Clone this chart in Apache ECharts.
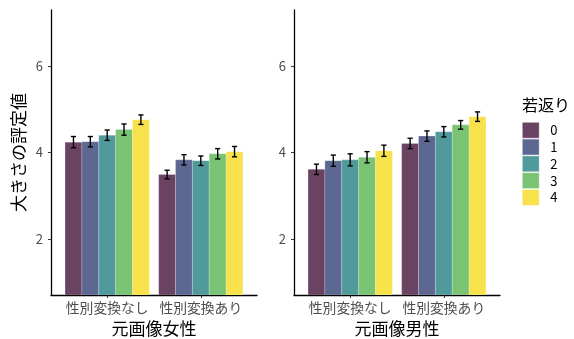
<!DOCTYPE html>
<html>
<head>
<meta charset="utf-8">
<script src="https://cdn.jsdelivr.net/npm/echarts@6/dist/echarts.min.js"></script>
<style>
  html, body { margin: 0; padding: 0; background: #fff; }
  #chart { width: 574px; height: 339px; }
</style>
</head>
<body>
<div id="chart"></div>
<script>
// Categories and group labels
const conditions = ['性別変換なし', '性別変換あり'];
const levels = ['0', '1', '2', '3', '4'];
const panelTitles = ['元画像女性', '元画像男性'];
const yTicks = [2, 4, 6];
const levelColors = ['#6a4262', '#5c6891', '#519a9b', '#7ac274', '#f8e24c'];

// Mean ratings per rejuvenation level (0-4)
const femaleNoSwapMean = [4.24, 4.25, 4.40, 4.53, 4.76];
const femaleSwapMean   = [3.49, 3.83, 3.81, 3.97, 4.02];
const maleNoSwapMean   = [3.61, 3.81, 3.83, 3.89, 4.04];
const maleSwapMean     = [4.21, 4.38, 4.48, 4.64, 4.83];

// Standard errors
const femaleNoSwapErr = [0.13, 0.12, 0.12, 0.13, 0.11];
const femaleSwapErr   = [0.10, 0.12, 0.11, 0.12, 0.12];
const maleNoSwapErr   = [0.12, 0.13, 0.14, 0.13, 0.13];
const maleSwapErr     = [0.12, 0.12, 0.12, 0.10, 0.11];

const yMin = 0.7, yMax = 7.3;
const dodge = 0.18;   // width of one bar in category units
const font = '"Noto Sans CJK JP", "Noto Sans", sans-serif';

const panels = [
  { means: [femaleNoSwapMean, femaleSwapMean], errs: [femaleNoSwapErr, femaleSwapErr] },
  { means: [maleNoSwapMean, maleSwapMean], errs: [maleNoSwapErr, maleSwapErr] }
];

function renderBar(params, api) {
  const cat = api.value(0), mean = api.value(1), se = api.value(2), lvl = api.value(3);
  const xc = cat + (lvl - 2) * dodge;
  const tl = api.coord([xc - dodge / 2, mean]);
  const br = api.coord([xc + dodge / 2, yMin]);
  const top = api.coord([xc, mean + se]);
  const bot = api.coord([xc, mean - se]);
  const cap = 2.6;
  const lineStyle = { stroke: '#000', lineWidth: 1.4 };
  return {
    type: 'group',
    children: [
      { type: 'rect', shape: { x: tl[0], y: tl[1], width: br[0] - tl[0], height: br[1] - tl[1] },
        style: { fill: levelColors[lvl], stroke: 'rgba(255,255,255,0.35)', lineWidth: 0.6 } },
      { type: 'line', shape: { x1: top[0], y1: top[1], x2: bot[0], y2: bot[1] }, style: lineStyle, z2: 5 },
      { type: 'line', shape: { x1: top[0] - cap, y1: top[1], x2: top[0] + cap, y2: top[1] }, style: lineStyle, z2: 5 },
      { type: 'line', shape: { x1: bot[0] - cap, y1: bot[1], x2: bot[0] + cap, y2: bot[1] }, style: lineStyle, z2: 5 }
    ]
  };
}

const grids = [
  { left: 51, top: 10, width: 206, height: 285, containLabel: false, outerBoundsMode: 'none' },
  { left: 294, top: 10, width: 206, height: 285, containLabel: false, outerBoundsMode: 'none' }
];

const xAxes = panels.map((p, i) => ({
  type: 'value', gridIndex: i, min: 0.4, max: 2.6,
  name: panelTitles[i], nameLocation: 'middle', nameGap: 19,
  nameTextStyle: { fontFamily: font, fontSize: 17, color: '#000' },
  axisLine: { show: true, lineStyle: { color: '#000', width: 1.3 } },
  axisTick: { show: true, length: 3, customValues: [1, 2], lineStyle: { color: '#333', width: 1 } },
  axisLabel: { customValues: [1, 2], margin: 6, fontFamily: font, fontSize: 13.8, color: '#4d4d4d',
    formatter: v => conditions[Math.round(v) - 1] || '' },
  splitLine: { show: false }
}));

const yAxes = panels.map((p, i) => ({
  type: 'value', gridIndex: i, min: yMin, max: yMax,
  name: i === 0 ? '大きさの評定値' : '', nameLocation: 'middle', nameGap: 24, nameRotate: 90,
  nameTextStyle: { fontFamily: font, fontSize: 17, color: '#000' },
  axisLine: { show: true, lineStyle: { color: '#000', width: 1.3 } },
  axisTick: { show: true, length: 3, customValues: yTicks, lineStyle: { color: '#333', width: 1 } },
  axisLabel: { customValues: yTicks, margin: 8, fontFamily: font, fontSize: 13, color: '#4d4d4d' },
  splitLine: { show: false }
}));

const series = [];
panels.forEach((p, pi) => {
  levels.forEach((lv, li) => {
    series.push({
      type: 'custom', name: lv, xAxisIndex: pi, yAxisIndex: pi,
      itemStyle: { color: levelColors[li] },
      renderItem: renderBar, clip: true,
      data: conditions.map((c, ci) => [ci + 1, p.means[ci][li], p.errs[ci][li], li])
    });
  });
});

const chart = echarts.init(document.getElementById('chart'), null, { renderer: 'canvas' });
chart.setOption({
  animation: false,
  backgroundColor: '#fff',
  title: {
    text: '若返り', left: 517, top: 92,
    textStyle: { fontFamily: font, fontSize: 16, fontWeight: 'normal', color: '#000' }
  },
  legend: {
    orient: 'vertical', left: 522, top: 122, itemWidth: 17, itemHeight: 16, itemGap: 0.3,
    padding: 0, selectedMode: false,
    textStyle: { fontFamily: font, fontSize: 13, color: '#000', padding: [0, 0, 0, 6] },
    data: levels.map((lv, li) => ({ name: lv, icon: 'rect',
      itemStyle: { color: levelColors[li], borderColor: '#fff', borderWidth: 0.5 } }))
  },
  grid: grids,
  xAxis: xAxes,
  yAxis: yAxes,
  series: series
});
</script>
</body>
</html>
